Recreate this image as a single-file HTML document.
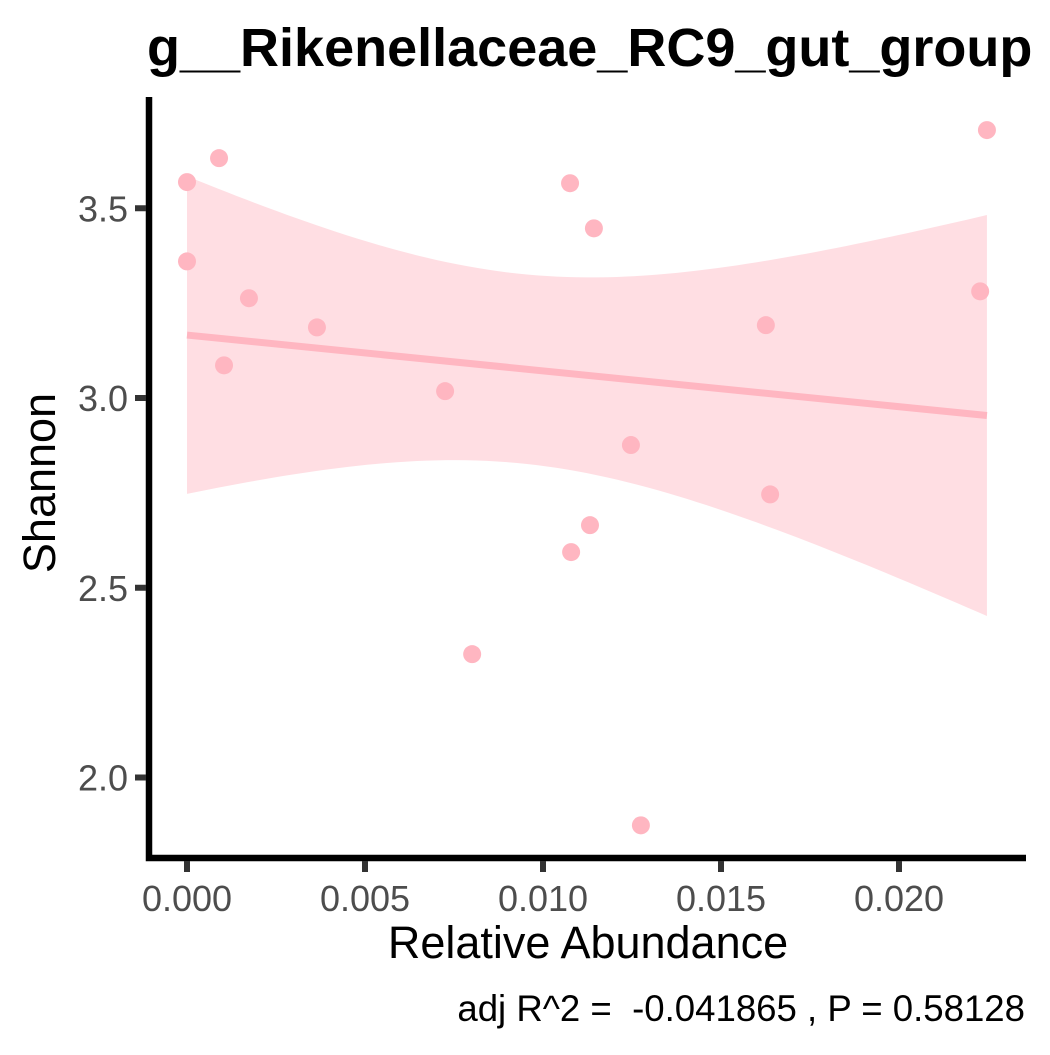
<!DOCTYPE html>
<html><head><meta charset="utf-8"><style>
body{margin:0;background:#fff;}
svg text{font-family:"Liberation Sans",sans-serif;white-space:pre;}
</style></head><body>
<svg id="chart" width="1050" height="1050" xmlns="http://www.w3.org/2000/svg">
<text x="147" y="66" font-size="54" font-weight="bold" fill="#000">g__Rikenellaceae_RC9_gut_group</text>
<g id="band"></g>
<g id="line"></g>
<g id="points"></g>
<g id="axes"></g>
<text x="588" y="958" font-size="45" text-anchor="middle" fill="#000">Relative Abundance</text>
<text transform="translate(55,483) rotate(-90)" font-size="45" text-anchor="middle" fill="#000">Shannon</text>
<text x="1025" y="1021" font-size="36.6" text-anchor="end" fill="#000">adj R^2 =  -0.041865 , P = 0.58128</text>
</svg>
<script>
const xs=[0,0.00090,0,0.00174,0.00104,0.00365,0.00725,0.00801,0.01076,0.01143,0.01079,0.01132,0.01247,0.01275,0.01626,0.01638,0.02228,0.02247];
const ys=[3.569,3.632,3.360,3.263,3.086,3.186,3.018,2.325,3.566,3.447,2.594,2.665,2.876,1.874,3.192,2.746,3.281,3.706];
const xTicks=[0,0.005,0.010,0.015,0.020];
const xTickLabels=["0.000","0.005","0.010","0.015","0.020"];
const yTicks=[2.0,2.5,3.0,3.5];
const yTickLabels=["2.0","2.5","3.0","3.5"];
const NS="http://www.w3.org/2000/svg";
const X=v=>187+v/0.005*178;
const Y=v=>398-(v-3.0)*379.5;
function mk(tag,attrs,parent){const e=document.createElementNS(NS,tag);for(const k in attrs)e.setAttribute(k,attrs[k]);parent.appendChild(e);return e;}
const n=xs.length,mx=xs.reduce((a,b)=>a+b)/n,my=ys.reduce((a,b)=>a+b)/n;
let sxx=0,sxy=0;for(let i=0;i<n;i++){sxx+=(xs[i]-mx)**2;sxy+=(xs[i]-mx)*(ys[i]-my);}
const b=sxy/sxx,a=my-b*mx;let sse=0;for(let i=0;i<n;i++)sse+=(ys[i]-a-b*xs[i])**2;
const s=Math.sqrt(sse/(n-2)),t=2.12;
const x0=Math.min(...xs),x1=Math.max(...xs);
let up=[],lo=[];
for(let k=0;k<=80;k++){const x=x0+(x1-x0)*k/80;const f=a+b*x;const se=s*Math.sqrt(1/n+(x-mx)**2/sxx);up.push(X(x)+","+Y(f+t*se));lo.unshift(X(x)+","+Y(f-t*se));}
const band=mk('polygon',{points:up.concat(lo).join(' '),fill:'#ffb6c1','fill-opacity':0.45},document.getElementById('band'));


const ln=mk('line',{x1:X(x0),y1:Y(a+b*x0),x2:X(x1),y2:Y(a+b*x1),stroke:'#ffb6c1','stroke-width':7},document.getElementById('line'));


const pg=document.getElementById('points');
for(let i=0;i<n;i++){const c=mk('circle',{cx:X(xs[i]),cy:Y(ys[i]),r:9,fill:'#ffb6c1'},pg);

}
const ax=document.getElementById('axes');
mk('polyline',{points:'149,97 149,858 1026,858',fill:'none',stroke:'#000','stroke-width':6.5},ax);
xTicks.forEach((v,i)=>{mk('line',{x1:X(v),y1:861,x2:X(v),y2:872,stroke:'#333','stroke-width':6},ax);
const tx=mk('text',{x:X(v),y:911,'font-size':36,'text-anchor':'middle',fill:'#4d4d4d'},ax);tx.textContent=xTickLabels[i];

});
yTicks.forEach((v,i)=>{mk('line',{x1:135,y1:Y(v),x2:146,y2:Y(v),stroke:'#333','stroke-width':6},ax);
const tx=mk('text',{x:128,y:Y(v)+13,'font-size':36,'text-anchor':'end',fill:'#4d4d4d'},ax);tx.textContent=yTickLabels[i];

});
</script>
</body></html>
